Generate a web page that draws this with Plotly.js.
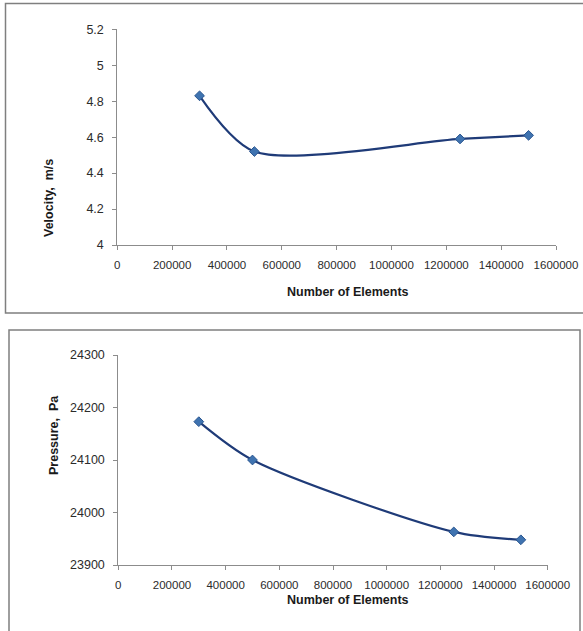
<!DOCTYPE html>
<html>
<head>
<meta charset="utf-8">
<script src="https://cdn.plot.ly/plotly-3.0.1.min.js"></script>
<style>
  html, body { margin: 0; padding: 0; background: #ffffff; }
  #chart { width: 583px; height: 631px; }
</style>
</head>
<body>
<div id="chart"></div>
<script>
// Mesh independence study: velocity and pressure vs. element count
const elements = [300000, 500000, 1250000, 1500000];
const velocity = [4.83, 4.52, 4.59, 4.61];
const pressure = [24173, 24100, 23963, 23948];

const xTicks = [0, 200000, 400000, 600000, 800000, 1000000, 1200000, 1400000, 1600000];
const velocityTicks = [4, 4.2, 4.4, 4.6, 4.8, 5, 5.2];
const pressureTicks = [23900, 24000, 24100, 24200, 24300];

const W = 583, H = 631;
const px = v => v / W;
const py = v => 1 - v / H;

const FONT = 'Liberation Sans, Arial, sans-serif';
const lineColor = '#1f3b78';
const markerStyle = { symbol: 'diamond', size: 7.5, color: '#3f73b0', line: { color: '#2a5690', width: 1 } };

const traces = [
  {
    x: elements, y: velocity, xaxis: 'x', yaxis: 'y',
    mode: 'lines+markers', type: 'scatter',
    line: { color: lineColor, width: 2.2, shape: 'spline', smoothing: 0.8 },
    marker: markerStyle, hoverinfo: 'x+y'
  },
  {
    x: elements, y: pressure, xaxis: 'x2', yaxis: 'y2',
    mode: 'lines+markers', type: 'scatter',
    line: { color: lineColor, width: 2.2, shape: 'spline', smoothing: 0.8 },
    marker: markerStyle, hoverinfo: 'x+y'
  }
];

const axisCommon = {
  showgrid: false, zeroline: false, showline: true,
  linecolor: '#8c8c8c', linewidth: 1,
  ticks: 'outside', ticklen: 4, tickcolor: '#8c8c8c', tickwidth: 1,
  fixedrange: true
};
const xFont = { family: FONT, size: 11.5, color: '#2b2b2b' };
const yFont = { family: FONT, size: 12.5, color: '#2b2b2b' };

const layout = {
  width: W, height: H,
  margin: { l: 0, r: 0, t: 0, b: 0 },
  paper_bgcolor: '#ffffff', plot_bgcolor: '#ffffff',
  showlegend: false,
  font: { family: FONT, color: '#222222' },
  xaxis: Object.assign({}, axisCommon, {
    domain: [px(117.3), px(556)], anchor: 'y', tickfont: xFont, ticklabelstandoff: 5,
    range: [0, 1600000], tickvals: xTicks, ticktext: xTicks.map(String)
  }),
  yaxis: Object.assign({}, axisCommon, {
    domain: [py(245), py(29.3)], anchor: 'x', tickfont: yFont, ticklabelstandoff: 6,
    range: [4, 5.2], tickvals: velocityTicks, ticktext: velocityTicks.map(String)
  }),
  xaxis2: Object.assign({}, axisCommon, {
    domain: [px(118.3), px(547.7)], anchor: 'y2', tickfont: xFont, ticklabelstandoff: 5,
    range: [0, 1600000], tickvals: xTicks, ticktext: xTicks.map(String)
  }),
  yaxis2: Object.assign({}, axisCommon, {
    domain: [py(565), py(355)], anchor: 'x2', tickfont: yFont, ticklabelstandoff: 6,
    range: [23900, 24300], tickvals: pressureTicks, ticktext: pressureTicks.map(String)
  }),
  annotations: [
    { text: '<b>Number of Elements</b>', xref: 'paper', yref: 'paper', x: px(348), y: py(292),
      showarrow: false, font: { family: FONT, size: 12.5, color: '#1a1a1a' } },
    { text: '<b>Velocity,  m/s</b>', xref: 'paper', yref: 'paper', x: px(40), y: py(157),
      showarrow: false, textangle: -90, font: { family: FONT, size: 12.5, color: '#1a1a1a' } },
    { text: '<b>Number of Elements</b>', xref: 'paper', yref: 'paper', x: px(348), y: py(609),
      showarrow: false, font: { family: FONT, size: 12.5, color: '#1a1a1a' } },
    { text: '<b>Pressure,  Pa</b>', xref: 'paper', yref: 'paper', x: px(45), y: py(477),
      showarrow: false, textangle: -90, font: { family: FONT, size: 12.5, color: '#1a1a1a' } }
  ],
  shapes: [
    { type: 'rect', xref: 'paper', yref: 'paper', x0: px(5.5), x1: px(584), y0: py(313), y1: py(3.5),
      line: { color: '#7f7f7f', width: 1.5 }, fillcolor: 'rgba(0,0,0,0)' },
    { type: 'rect', xref: 'paper', yref: 'paper', x0: px(9), x1: px(580), y0: py(640), y1: py(330),
      line: { color: '#7f7f7f', width: 1.5 }, fillcolor: 'rgba(0,0,0,0)' }
  ]
};

Plotly.newPlot('chart', traces, layout, { displayModeBar: false, staticPlot: true });
</script>
</body>
</html>
